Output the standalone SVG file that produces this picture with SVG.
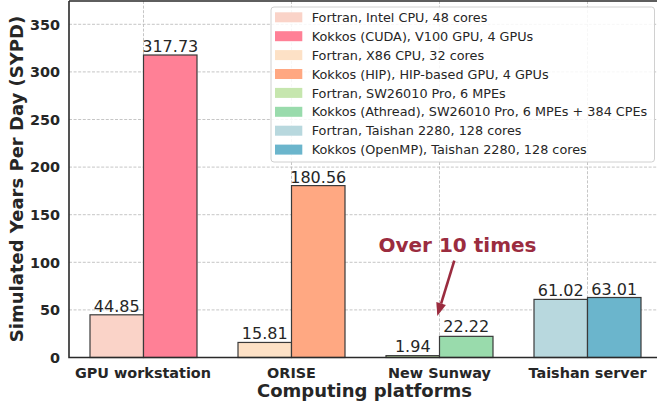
<svg xmlns="http://www.w3.org/2000/svg" width="657" height="404" viewBox="0 0 657 404">
<style>
text{font-family:"DejaVu Sans","Liberation Sans",sans-serif;fill:#262626}
.grid{stroke:#b8b8b8;stroke-width:0.8;stroke-dasharray:3,1.6;fill:none}
.bar{stroke:#3a3a3a;stroke-width:1.2}
.val{font-size:16px;text-anchor:middle}
.tick{font-size:14.4px;font-weight:bold}
.leg{font-size:12.8px}
.spine{stroke:#2a2a2a;stroke-width:1.6;fill:none}
</style>
<rect width="657" height="404" fill="#fff"/>
<g id="grid">
<path class="grid" d="M69,309.9H657M69,262.3H657M69,214.7H657M69,167.1H657M69,119.5H657M69,71.9H657M69,24.3H657"/>
<path class="grid" d="M143.5,1V357.5M291.5,1V357.5M439.5,1V357.5M587.5,1V357.5"/>
</g>
<g id="bars">
<g id="gpu">
<rect class="bar" x="90" y="314.8" width="53.5" height="42.7" fill="#fad3c8"/>
<rect class="bar" x="143.5" y="55" width="53.5" height="302.5" fill="#ff8096"/>
<text class="val" x="116.75" y="311.8">44.85</text>
<text class="val" x="170.25" y="52">317.73</text>
</g>
<g id="orise">
<rect class="bar" x="238" y="342.45" width="53.5" height="15.05" fill="#fde1c6"/>
<rect class="bar" x="291.5" y="185.6" width="53.5" height="171.9" fill="#ffa882"/>
<text class="val" x="264.75" y="339.2">15.81</text>
<text class="val" x="318.25" y="182.6">180.56</text>
</g>
<g id="sunway">
<rect class="bar" x="386" y="355.65" width="53.5" height="1.85" fill="#c6e6ae"/>
<rect class="bar" x="439.5" y="336.35" width="53.5" height="21.15" fill="#99dbac"/>
<text class="val" x="412.75" y="351.8">1.94</text>
<text class="val" x="466.25" y="332.4">22.22</text>
</g>
<g id="taishan">
<rect class="bar" x="534" y="299.4" width="53.5" height="58.1" fill="#b8d8de"/>
<rect class="bar" x="587.5" y="297.5" width="53.5" height="60" fill="#6bb5cc"/>
<text class="val" x="560.75" y="296.4">61.02</text>
<text class="val" x="614.25" y="294.5">63.01</text>
</g>
</g>
<g id="axes">
<path class="spine" d="M69,1V357.5H657M69,1H657"/>
<g class="tick" text-anchor="end">
<text x="60" y="362.7" class="tick">0</text>
<text x="60" y="315.1" class="tick">50</text>
<text x="60" y="267.5" class="tick">100</text>
<text x="60" y="219.9" class="tick">150</text>
<text x="60" y="172.3" class="tick">200</text>
<text x="60" y="124.7" class="tick">250</text>
<text x="60" y="77.1" class="tick">300</text>
<text x="60" y="29.5" class="tick">350</text>
</g>
<g text-anchor="middle">
<text x="143" y="377.8" class="tick">GPU workstation</text>
<text x="291.5" y="377.8" class="tick">ORISE</text>
<text x="439.5" y="377.8" class="tick">New Sunway</text>
<text x="587.5" y="377.8" class="tick">Taishan server</text>
<text x="364.5" y="397" style="font-size:18px;font-weight:bold">Computing platforms</text>
<text transform="translate(22.5,179) rotate(-90)" x="0" y="0" style="font-size:18px;font-weight:bold">Simulated Years Per Day (SYPD)</text>
</g>
</g>
<g id="legend">
<rect x="271" y="7" width="383.5" height="155" rx="3" fill="#fff" fill-opacity="0.85" stroke="#d0d0d0" stroke-width="1"/>
<rect x="275" y="12.3" width="27.3" height="10" fill="#fad3c8"/>
<rect x="275" y="31.2" width="27.3" height="10" fill="#ff8096"/>
<rect x="275" y="50.1" width="27.3" height="10" fill="#fde1c6"/>
<rect x="275" y="69" width="27.3" height="10" fill="#ffa882"/>
<rect x="275" y="87.9" width="27.3" height="10" fill="#c6e6ae"/>
<rect x="275" y="106.8" width="27.3" height="10" fill="#99dbac"/>
<rect x="275" y="125.7" width="27.3" height="10" fill="#b8d8de"/>
<rect x="275" y="144.6" width="27.3" height="10" fill="#6bb5cc"/>
<text class="leg" x="311.7" y="21.9">Fortran, Intel CPU, 48 cores</text>
<text class="leg" x="311.7" y="40.8">Kokkos (CUDA), V100 GPU, 4 GPUs</text>
<text class="leg" x="311.7" y="59.7">Fortran, X86 CPU, 32 cores</text>
<text class="leg" x="311.7" y="78.6">Kokkos (HIP), HIP-based GPU, 4 GPUs</text>
<text class="leg" x="311.7" y="97.5">Fortran, SW26010 Pro, 6 MPEs</text>
<text class="leg" x="311.7" y="116.4">Kokkos (Athread), SW26010 Pro, 6 MPEs + 384 CPEs</text>
<text class="leg" x="311.7" y="135.3">Fortran, Taishan 2280, 128 cores</text>
<text class="leg" x="311.7" y="154.2">Kokkos (OpenMP), Taishan 2280, 128 cores</text>
</g>
<g id="annotation">
<text x="457.5" y="252.3" text-anchor="middle" style="font-size:20px;font-weight:bold;fill:#9b2c3f">Over 10 times</text>
<line x1="454.3" y1="260.7" x2="441.1" y2="303.6" stroke="#9b2c3f" stroke-width="2.6"/>
<polygon points="437.3,316 445.9,305.1 436.3,302.1" fill="#9b2c3f"/>
</g>
</svg>
